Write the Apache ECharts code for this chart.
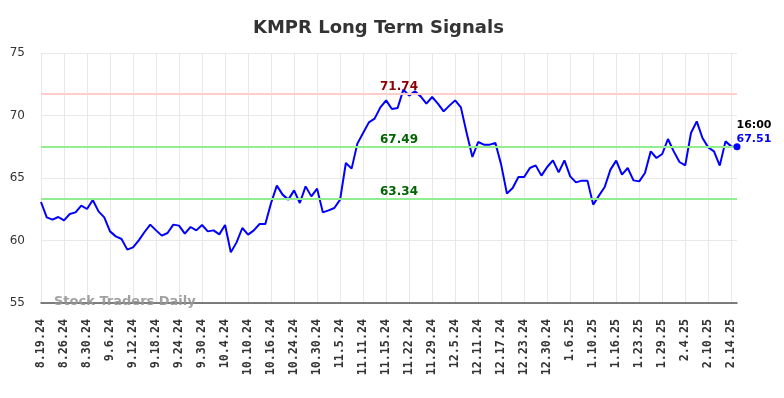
<!DOCTYPE html>
<html>
<head>
<meta charset="utf-8">
<script src="https://cdn.jsdelivr.net/npm/echarts@6/dist/echarts.min.js"></script>
<style>
  html, body { margin: 0; padding: 0; background: #fff; }
  #chart { width: 784px; height: 398px; }
</style>
</head>
<body>
<div id="chart"></div>
<script>
// dates (trading days), one label every 4th point
var dates = [
  '8.19.24','8.20.24','8.21.24','8.22.24',
  '8.26.24','8.27.24','8.28.24','8.29.24',
  '8.30.24','9.3.24','9.4.24','9.5.24',
  '9.6.24','9.9.24','9.10.24','9.11.24',
  '9.12.24','9.13.24','9.16.24','9.17.24',
  '9.18.24','9.19.24','9.20.24','9.23.24',
  '9.24.24','9.25.24','9.26.24','9.27.24',
  '9.30.24','10.1.24','10.2.24','10.3.24',
  '10.4.24','10.7.24','10.8.24','10.9.24',
  '10.10.24','10.11.24','10.14.24','10.15.24',
  '10.16.24','10.17.24','10.21.24','10.23.24',
  '10.24.24','10.25.24','10.28.24','10.29.24',
  '10.30.24','10.31.24','11.1.24','11.4.24',
  '11.5.24','11.6.24','11.7.24','11.8.24',
  '11.11.24','11.12.24','11.13.24','11.14.24',
  '11.15.24','11.18.24','11.19.24','11.21.24',
  '11.22.24','11.25.24','11.26.24','11.27.24',
  '11.29.24','12.2.24','12.3.24','12.4.24',
  '12.5.24','12.6.24','12.9.24','12.10.24',
  '12.11.24','12.12.24','12.13.24','12.16.24',
  '12.17.24','12.18.24','12.19.24','12.20.24',
  '12.23.24','12.24.24','12.26.24','12.27.24',
  '12.30.24','12.31.24','1.2.25','1.3.25',
  '1.6.25','1.7.25','1.8.25','1.9.25',
  '1.10.25','1.13.25','1.14.25','1.15.25',
  '1.16.25','1.17.25','1.21.25','1.22.25',
  '1.23.25','1.24.25','1.27.25','1.28.25',
  '1.29.25','1.30.25','1.31.25','2.3.25',
  '2.4.25','2.5.25','2.6.25','2.7.25',
  '2.10.25','2.11.25','2.12.25','2.13.25',
  '2.14.25','2.18.25'
];

// closing prices
var prices = [
  63.08,61.85,61.67,61.88,61.61,62.12,62.25,62.79,62.52,63.24,
  62.33,61.85,60.73,60.33,60.12,59.27,59.45,60.01,60.68,61.27,
  60.81,60.39,60.60,61.27,61.19,60.55,61.08,60.81,61.24,60.73,
  60.81,60.49,61.24,59.05,59.85,61.00,60.47,60.81,61.32,61.32,
  63.00,64.39,63.67,63.27,64.01,63.00,64.33,63.53,64.15,62.25,
  62.41,62.60,63.27,66.20,65.75,67.75,68.60,69.45,69.75,70.65,
  71.21,70.52,70.60,72.07,71.59,71.93,71.53,70.95,71.48,70.95,
  70.33,70.79,71.21,70.65,68.60,66.68,67.88,67.67,67.67,67.80,
  66.07,63.75,64.20,65.08,65.08,65.80,66.01,65.19,65.88,66.41,
  65.45,66.41,65.13,64.65,64.79,64.79,62.87,63.59,64.28,65.67,
  66.39,65.27,65.80,64.81,64.73,65.40,67.13,66.60,66.92,68.12,
  67.13,66.28,66.01,68.60,69.53,68.20,67.45,67.13,65.99,67.93,
  67.53,67.51
];

// signal levels
var resistance = [71.74];
var supports = [67.49, 63.34];
var yTicks = [55, 75, 5]; // min, max, step
var lastTime = '16:00';

var myChart = echarts.init(document.getElementById('chart'));

var levelLines = [];
resistance.forEach(function (v) {
  levelLines.push({
    yAxis: v,
    lineStyle: { color: '#ffcccc', width: 2, type: 'solid' },
    label: { color: '#8b0000' }
  });
});
supports.forEach(function (v) {
  levelLines.push({
    yAxis: v,
    lineStyle: { color: '#90ee90', width: 2, type: 'solid' },
    label: { color: '#006400' }
  });
});

var lastIdx = prices.length - 1;

var option = {
  animation: false,
  title: {
    text: 'KMPR Long Term Signals',
    left: 248,
    top: 14,
    textStyle: {
      fontFamily: 'DejaVu Sans',
      fontWeight: 'bold',
      fontSize: 18,
      color: '#333'
    }
  },
  grid: { left: 41, right: 47, top: 53, bottom: 95 },
  graphic: [{
    type: 'text',
    left: 54,
    top: 295,
    z: 100,
    style: {
      text: 'Stock Traders Daily',
      fill: 'rgba(150,150,150,0.9)',
      font: 'bold 13px "DejaVu Sans"'
    }
  }],
  xAxis: {
    type: 'category',
    data: dates,
    boundaryGap: false,
    axisLine: { lineStyle: { color: '#555', width: 1.5 } },
    axisTick: { show: false },
    axisLabel: {
      interval: 3,
      rotate: 90,
      margin: 16,
      fontFamily: 'DejaVu Sans Mono',
      fontWeight: 'bold',
      fontSize: 11.7,
      color: '#333'
    },
    splitLine: { show: true, interval: 3, lineStyle: { color: '#e8e8e8', width: 1 } }
  },
  yAxis: {
    type: 'value',
    min: yTicks[0],
    max: yTicks[1],
    interval: yTicks[2],
    axisLine: { show: false },
    axisTick: { show: false },
    axisLabel: {
      margin: 16,
      fontFamily: 'DejaVu Sans',
      fontSize: 12,
      color: '#333'
    },
    splitLine: { lineStyle: { color: '#e8e8e8', width: 1 } }
  },
  series: [{
    type: 'line',
    data: prices,
    symbol: 'none',
    lineStyle: { color: '#0000ff', width: 2 },
    markLine: {
      silent: true,
      symbol: 'none',
      label: {
        position: 'insideMiddleTop',
        distance: 1,
        offset: [10, 0],
        fontFamily: 'DejaVu Sans',
        fontWeight: 'bold',
        fontSize: 12,
        formatter: function (p) { return p.value.toFixed(2); }
      },
      data: levelLines
    },
    markPoint: {
      silent: true,
      symbol: 'circle',
      symbolSize: 7,
      itemStyle: { color: '#0000ff' },
      label: {
        show: true,
        position: [3, -25],
        align: 'left',
        verticalAlign: 'top',
        lineHeight: 14,
        fontFamily: 'DejaVu Sans',
        fontWeight: 'bold',
        fontSize: 11,
        formatter: function (p) { return '{t|' + lastTime + '}\n{v|' + p.value.toFixed(2) + '}'; },
        rich: {
          t: { color: '#000', fontWeight: 'bold', fontSize: 11, fontFamily: 'DejaVu Sans', lineHeight: 14 },
          v: { color: '#0000ff', fontWeight: 'bold', fontSize: 11, fontFamily: 'DejaVu Sans', lineHeight: 14 }
        }
      },
      data: [{ coord: [lastIdx, prices[lastIdx]], value: prices[lastIdx] }]
    }
  }]
};

myChart.setOption(option);
</script>
</body>
</html>
